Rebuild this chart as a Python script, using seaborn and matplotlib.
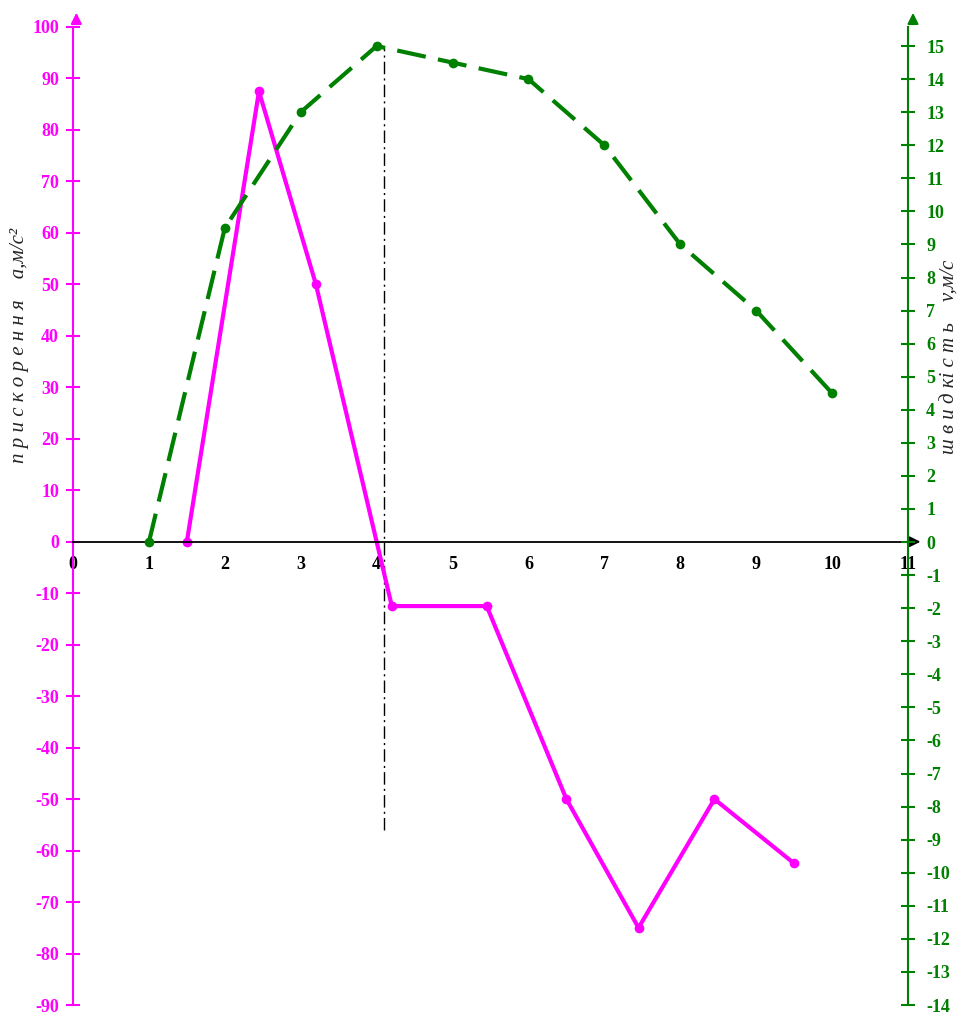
import matplotlib
matplotlib.use("Agg")
import matplotlib.pyplot as plt
import pandas as pd
import seaborn as sns

sns.set_style("white")
plt.rcParams["font.family"] = ["Liberation Serif", "DejaVu Serif"]
plt.rcParams["axes.unicode_minus"] = False

MAGENTA = "#ff00ff"
GREEN = "#008000"

# acceleration a (left axis) and speed v (right axis) against time
accel_t = [1.5, 2.45, 3.2, 4.2, 5.45, 6.5, 7.45, 8.45, 9.5]
accel_a = [0, 87.5, 50, -12.5, -12.5, -50, -75, -50, -62.5]
speed_t = [1, 2, 3, 4, 5, 6, 7, 8, 9, 10]
speed_v = [0, 9.5, 13, 15, 14.5, 14, 12, 9, 7, 4.5]

x_ticks = list(range(0, 12))
a_ticks = list(range(-90, 101, 10))
v_ticks = list(range(-14, 16))

# dash-dot marker line at the speed maximum
marker_t = [4.1, 4.1]
marker_a = [-56, 96.4]

accel = pd.DataFrame({"t": accel_t, "a": accel_a})
speed = pd.DataFrame({"t": speed_t, "v": speed_v})

fig = plt.figure(figsize=(9.6, 10.14), dpi=100)
ax = fig.add_axes([73 / 960, 9 / 1014, 835 / 960, 995 / 1014])
ax2 = ax.twinx()

a_lim = (-90, 103.3)
v_lim = (-14, 16.09)
ax.set_xlim(0, 11)
ax.set_ylim(*a_lim)
ax2.set_ylim(*v_lim)

ax.plot(marker_t, marker_a, color="black", lw=1, linestyle=(0, (9, 3, 1.5, 3)))

sns.lineplot(data=accel, x="t", y="a", ax=ax, color=MAGENTA, lw=3,
             marker="o", markersize=7, markeredgewidth=0)
sns.lineplot(data=speed, x="t", y="v", ax=ax2, color=GREEN, lw=3,
             linestyle=(0, (7, 3)), marker="o", markersize=7, markeredgewidth=0)

# spines
for s in ["top", "right"]:
    ax.spines[s].set_visible(False)
ax.spines["left"].set_color(MAGENTA)
ax.spines["left"].set_linewidth(1.5)
ax.spines["left"].set_bounds(-90, 100)
ax.spines["bottom"].set_position(("data", 0))
ax.spines["bottom"].set_color("black")
ax.spines["bottom"].set_linewidth(1.3)

for s in ["top", "left", "bottom"]:
    ax2.spines[s].set_visible(False)
ax2.spines["right"].set_color(GREEN)
ax2.spines["right"].set_linewidth(1.5)
ax2.spines["right"].set_bounds(-14, 15.57)

# ticks
ax.set_xticks(x_ticks)
ax.set_xticklabels([str(t) for t in x_ticks])
ax.set_yticks(a_ticks)
ax.set_yticklabels([str(t) for t in a_ticks])
ax2.set_yticks(v_ticks)
ax2.set_yticklabels([str(t) for t in v_ticks])

ax.tick_params(axis="x", direction="inout", length=10, width=1.2, color="black",
               labelcolor="black", labelsize=13, pad=5)
ax.tick_params(axis="y", direction="inout", length=10, width=1.5, color=MAGENTA,
               labelcolor=MAGENTA, labelsize=13, pad=5)
ax2.tick_params(axis="y", direction="inout", length=10, width=1.5, color=GREEN,
                labelcolor=GREEN, labelsize=13, pad=8)
for lab in ax.get_xticklabels() + ax.get_yticklabels() + ax2.get_yticklabels():
    lab.set_fontweight("bold")

ax.set_xlabel("")
ax.set_ylabel("")
ax2.set_ylabel("")

# axis arrows
f100 = (100 - a_lim[0]) / (a_lim[1] - a_lim[0])
ax.annotate("", xy=(0.004, 1.0), xycoords="axes fraction", xytext=(0.004, f100),
            arrowprops=dict(arrowstyle="-|>", color=MAGENTA, lw=1.5, mutation_scale=16),
            annotation_clip=False)
ax.annotate("", xy=(1.006, 1.0), xycoords="axes fraction", xytext=(1.006, f100),
            arrowprops=dict(arrowstyle="-|>", color=GREEN, lw=1.5, mutation_scale=16),
            annotation_clip=False)
ax.annotate("", xy=(11.2, 0), xycoords="data", xytext=(10.95, 0),
            arrowprops=dict(arrowstyle="-|>", color="black", lw=1.3, mutation_scale=16),
            annotation_clip=False)

# axis titles
fig.text(20 / 960, 1 - 345 / 1014, "п р и с к о р е н н я    a,м/с²",
         rotation=90, ha="center", va="center", fontsize=15, style="italic")
fig.text(950 / 960, 1 - 357 / 1014, "ш в и д кі с т ь    v,м/с",
         rotation=90, ha="center", va="center", fontsize=15, style="italic")

fig.savefig("out.png", dpi=100)
